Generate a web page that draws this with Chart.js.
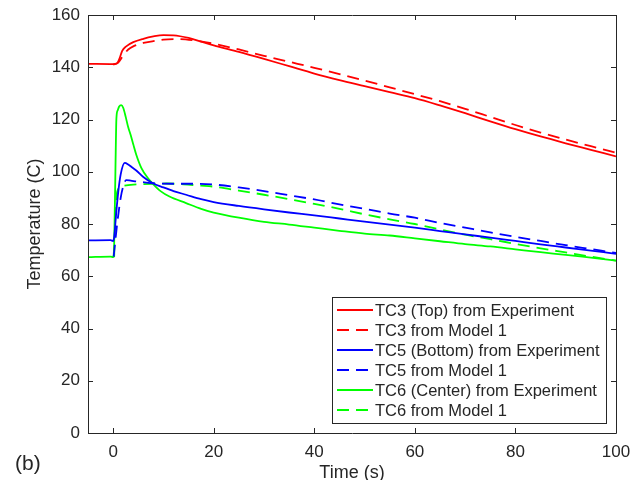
<!DOCTYPE html>
<html>
<head>
<meta charset="utf-8">
<title>Temperature vs time</title>
<script src="https://cdn.jsdelivr.net/npm/chart.js@4.4.1/dist/chart.umd.min.js"></script>
<style>
  html, body { margin: 0; padding: 0; background: #fff; }
  canvas { display: block; }
</style>
</head>
<body>
<canvas id="chart" width="631" height="480"></canvas>
<script>
// Datos (tiempo en s, temperatura en C)
const tc3ExpTime = [-5, 0, 0.8, 1.3, 1.8, 2.6, 4, 6, 8, 10, 12, 15, 17.5, 20, 25, 30, 35, 40, 45, 50, 55, 60, 65, 70, 75, 80, 85, 90, 95, 100];
const tc3ExpTemp = [141.3, 141.2, 141.5, 143.5, 146.3, 148, 149.6, 150.9, 151.8, 152.3, 152.2, 151.2, 149.8, 148.4, 145.9, 143.2, 140.4, 137.6, 135.1, 132.8, 130.5, 128.2, 125.4, 122.4, 119.3, 116.3, 113.5, 110.9, 108.4, 105.9];

const tc3ModTime = [0, 1, 2, 3, 4, 6, 8, 10, 13, 16, 20, 25, 30, 35, 40, 45, 50, 55, 60, 65, 70, 75, 80, 85, 90, 95, 100];
const tc3ModTemp = [141, 141.8, 144.5, 146.8, 148, 149.3, 150, 150.6, 150.8, 150.3, 149, 146.8, 144.4, 142.1, 139.8, 137.4, 134.9, 132.3, 129.7, 127, 124.1, 121, 117.9, 115, 112.3, 109.8, 107.3];

const tc5ExpTime = [-5, -0.5, 0, 0.2, 0.6, 1.0, 1.5, 2.3, 3.0, 3.8, 4.6, 6, 7.9, 10, 12, 14.5, 17.5, 20, 25, 30, 35, 40, 45, 50, 55, 60, 65, 70, 75, 80, 85, 90, 95, 100];
const tc5ExpTemp = [73.7, 73.8, 73.5, 75, 84, 92, 99, 103.4, 102.8, 101.6, 100.5, 98, 95.6, 94, 92.6, 91.2, 89.5, 88.4, 86.9, 85.6, 84.4, 83.3, 82.1, 80.9, 79.8, 78.6, 77.3, 76, 74.8, 73.5, 72.2, 71, 69.8, 68.6];

const tc5ModTime = [0.1, 0.8, 1.5, 2.1, 2.6, 3.5, 4.6, 6, 8, 12, 16, 20, 25, 30, 35, 40, 45, 50, 55, 60, 65, 70, 75, 80, 85, 90, 95, 100];
const tc5ModTemp = [67.5, 80, 90, 95, 96.8, 96.6, 96.3, 96, 95.6, 95.4, 95.4, 95.1, 94, 92.6, 91, 89.4, 87.5, 85.8, 84, 82.4, 80.4, 78.6, 76.8, 75.1, 73.5, 71.9, 70.4, 68.9];

const tc6ExpTime = [-5, -0.5, 0, 0.2, 0.45, 0.65, 0.9, 1.2, 1.6, 2.0, 2.5, 3, 3.5, 4, 4.6, 5.6, 6.9, 7.9, 9.5, 11.2, 14.5, 17.5, 20, 25, 30, 35, 40, 45, 50, 55, 60, 65, 70, 75, 80, 85, 90, 95, 100];
const tc6ExpTemp = [67.3, 67.5, 67.3, 72, 100, 120.5, 123.5, 125, 125.5, 124.5, 121, 117, 114, 110.5, 106.5, 101.5, 97.6, 95.4, 92.5, 90.5, 88, 85.8, 84.4, 82.4, 80.8, 79.8, 78.6, 77.4, 76.3, 75.6, 74.5, 73.4, 72.3, 71.4, 70.3, 69.2, 68.2, 67.1, 66];

const tc6ModTime = [0.2, 0.5, 0.9, 2, 4, 6, 8, 10.6, 14, 17.5, 20, 25, 30, 35, 40, 45, 50, 55, 60, 65, 70, 75, 80, 85, 90, 95, 100];
const tc6ModTemp = [67.3, 86, 93, 94.6, 95.1, 95.3, 95.4, 95.5, 95.2, 94.7, 94.3, 92.8, 91.2, 89.5, 87.7, 85.8, 83.7, 81.8, 80, 77.9, 75.9, 74.2, 72.4, 70.7, 69.1, 67.5, 66];

const xTicks = [0, 20, 40, 60, 80, 100];
const yTicks = [0, 20, 40, 60, 80, 100, 120, 140, 160];

const textColor = '#262626';
const fontFamily = '"Liberation Sans", Arial, Helvetica, sans-serif';

function toPoints(times, temps) {
  return times.map((t, i) => ({x: t, y: temps[i]}));
}

function serie(label, times, temps, color, dashed) {
  return {
    label: label,
    data: toPoints(times, temps),
    borderColor: color,
    backgroundColor: color,
    borderWidth: 1.8,
    borderDash: dashed ? [12, 7] : [],
    pointRadius: 0,
    fill: false,
    cubicInterpolationMode: 'monotone'
  };
}

// Caja de ejes con marcas hacia dentro (estilo MATLAB)
const axesBox = {
  id: 'axesBox',
  afterDatasetsDraw(chart) {
    const {ctx, chartArea: a, scales: {x, y}} = chart;
    ctx.save();
    ctx.strokeStyle = textColor;
    ctx.lineWidth = 1;
    ctx.setLineDash([]);
    ctx.beginPath();
    ctx.rect(a.left + 0.5, a.top + 0.5, a.right - a.left, a.bottom - a.top);
    xTicks.forEach(v => {
      const px = Math.round(x.getPixelForValue(v)) + 0.5;
      ctx.moveTo(px, a.bottom);
      ctx.lineTo(px, a.bottom - 5);
      ctx.moveTo(px, a.top);
      ctx.lineTo(px, a.top + 5);
    });
    yTicks.forEach(v => {
      const py = Math.round(y.getPixelForValue(v)) + 0.5;
      ctx.moveTo(a.left, py);
      ctx.lineTo(a.left + 5, py);
      ctx.moveTo(a.right, py);
      ctx.lineTo(a.right - 5, py);
    });
    ctx.stroke();
    ctx.restore();
  }
};

// Leyenda dentro del área del gráfico, abajo a la derecha
const boxLegend = {
  id: 'boxLegend',
  afterDraw(chart) {
    const {ctx, chartArea: a} = chart;
    const sets = chart.data.datasets;
    ctx.save();
    ctx.font = '16.5px ' + fontFamily;
    let maxW = 0;
    sets.forEach(ds => { maxW = Math.max(maxW, ctx.measureText(ds.label).width); });
    const rowH = 20;
    const w = Math.round(43 + maxW + 6);
    const h = sets.length * rowH + 6;
    const right = a.right - 10;
    const bottom = a.bottom - 10;
    const left = right - w;
    const top = bottom - h;

    ctx.fillStyle = '#ffffff';
    ctx.fillRect(left, top, w, h);
    ctx.strokeStyle = textColor;
    ctx.lineWidth = 1;
    ctx.strokeRect(left + 0.5, top + 0.5, w, h);

    sets.forEach((ds, i) => {
      const cy = top + 13 + i * rowH;
      ctx.beginPath();
      ctx.strokeStyle = ds.borderColor;
      ctx.lineWidth = ds.borderWidth;
      ctx.setLineDash(ds.borderDash);
      ctx.moveTo(left + 5, cy);
      ctx.lineTo(left + 41, cy);
      ctx.stroke();
      ctx.setLineDash([]);
      ctx.fillStyle = textColor;
      ctx.textBaseline = 'middle';
      ctx.textAlign = 'left';
      ctx.fillText(ds.label, left + 43, cy + 1);
    });

    // Etiqueta del panel
    ctx.font = '21px ' + fontFamily;
    ctx.textBaseline = 'alphabetic';
    ctx.fillText('(b)', 15, 470);
    ctx.restore();
  }
};

const ctx = document.getElementById('chart').getContext('2d');
new Chart(ctx, {
  type: 'line',
  data: {
    datasets: [
      serie('TC3 (Top) from Experiment', tc3ExpTime, tc3ExpTemp, '#ff0000', false),
      serie('TC3 from Model 1', tc3ModTime, tc3ModTemp, '#ff0000', true),
      serie('TC5 (Bottom) from Experiment', tc5ExpTime, tc5ExpTemp, '#0000ff', false),
      serie('TC5 from Model 1', tc5ModTime, tc5ModTemp, '#0000ff', true),
      serie('TC6 (Center) from Experiment', tc6ExpTime, tc6ExpTemp, '#00ff00', false),
      serie('TC6 from Model 1', tc6ModTime, tc6ModTemp, '#00ff00', true)
    ]
  },
  options: {
    responsive: false,
    animation: false,
    layout: {padding: {top: 15, right: 15, left: 0, bottom: 0}},
    plugins: {
      legend: {display: false},
      tooltip: {enabled: false}
    },
    scales: {
      x: {
        type: 'linear',
        min: -5,
        max: 100,
        afterBuildTicks: s => { s.ticks = xTicks.map(v => ({value: v})); },
        afterFit: s => { s.height = 47; s.paddingLeft = 0; s.paddingRight = 0; },
        grid: {display: false, drawTicks: false},
        border: {display: false},
        ticks: {color: textColor, font: {family: fontFamily, size: 17}, padding: 9, maxRotation: 0, autoSkip: false},
        title: {display: true, text: 'Time (s)', color: textColor, font: {family: fontFamily, size: 18}, padding: {top: 0, bottom: -4}}
      },
      y: {
        type: 'linear',
        min: 0,
        max: 160,
        afterBuildTicks: s => { s.ticks = yTicks.map(v => ({value: v})); },
        afterFit: s => { s.width = 88; s.paddingTop = 0; s.paddingBottom = 0; },
        grid: {display: false, drawTicks: false},
        border: {display: false},
        ticks: {color: textColor, font: {family: fontFamily, size: 17}, padding: 8, autoSkip: false},
        title: {display: true, text: 'Temperature (C)', color: textColor, font: {family: fontFamily, size: 18}, padding: {top: 24, bottom: 0}}
      }
    }
  },
  plugins: [axesBox, boxLegend]
});
</script>
</body>
</html>
